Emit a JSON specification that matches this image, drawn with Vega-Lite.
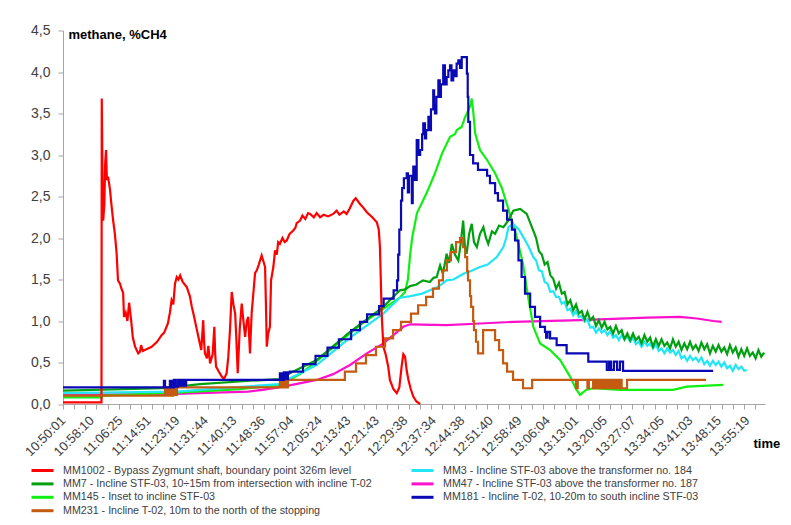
{
"$schema": "https://vega.github.io/schema/vega-lite/v6.json",
"width": 702, "height": 373.5,
"autosize": {"type": "none"},
"padding": {"left": 63, "top": 30.5, "right": 26, "bottom": 121},
"background": "white",
"config": {"view": {"stroke": null}, "font": "Liberation Sans"},
"data": {"values": [
{"k":"MM47","t":0,"v":0.11},{"k":"MM47","t":3.6,"v":0.12},{"k":"MM47","t":6.5,"v":0.15},{"k":"MM47","t":7.0,"v":0.17},{"k":"MM47","t":7.73,"v":0.21},{"k":"MM47","t":8.9,"v":0.29},{"k":"MM47","t":9.48,"v":0.36},{"k":"MM47","t":10.07,"v":0.47},{"k":"MM47","t":10.66,"v":0.61},{"k":"MM47","t":11.24,"v":0.73},{"k":"MM47","t":11.59,"v":0.83},{"k":"MM47","t":11.94,"v":0.93},{"k":"MM47","t":12.18,"v":0.96},{"k":"MM47","t":13.46,"v":0.95},{"k":"MM47","t":14.63,"v":0.97},{"k":"MM47","t":15.8,"v":0.99},{"k":"MM47","t":18.14,"v":1.01},{"k":"MM47","t":20.48,"v":1.04},{"k":"MM47","t":21.65,"v":1.05},{"k":"MM47","t":22.24,"v":1.03},{"k":"MM47","t":22.82,"v":1.0},{"k":"MM47","t":23.11,"v":0.99},
{"k":"MM145","t":0,"v":0.08},{"k":"MM145","t":1.36,"v":0.08},{"k":"MM145","t":1.4,"v":0.1},{"k":"MM145","t":4.16,"v":0.14},{"k":"MM145","t":6.21,"v":0.18},{"k":"MM145","t":7.61,"v":0.23},{"k":"MM145","t":8.32,"v":0.36},{"k":"MM145","t":9.02,"v":0.55},{"k":"MM145","t":9.72,"v":0.75},{"k":"MM145","t":10.42,"v":0.95},{"k":"MM145","t":11.12,"v":1.12},{"k":"MM145","t":11.82,"v":1.28},{"k":"MM145","t":12.0,"v":1.35},{"k":"MM145","t":12.1,"v":1.5},{"k":"MM145","t":12.18,"v":1.8},{"k":"MM145","t":12.25,"v":2.0},{"k":"MM145","t":12.42,"v":2.3},{"k":"MM145","t":12.77,"v":2.55},{"k":"MM145","t":13.05,"v":2.78},{"k":"MM145","t":13.3,"v":3.02},{"k":"MM145","t":13.58,"v":3.22},{"k":"MM145","t":13.75,"v":3.25},{"k":"MM145","t":13.82,"v":3.3},{"k":"MM145","t":13.99,"v":3.34},{"k":"MM145","t":14.1,"v":3.45},{"k":"MM145","t":14.17,"v":3.5},{"k":"MM145","t":14.3,"v":3.6},{"k":"MM145","t":14.34,"v":3.68},{"k":"MM145","t":14.4,"v":3.5},{"k":"MM145","t":14.46,"v":3.26},{"k":"MM145","t":14.63,"v":3.06},{"k":"MM145","t":14.88,"v":2.94},{"k":"MM145","t":15.16,"v":2.78},{"k":"MM145","t":15.4,"v":2.6},{"k":"MM145","t":15.58,"v":2.4},{"k":"MM145","t":15.89,"v":2.05},{"k":"MM145","t":16.14,"v":1.69},{"k":"MM145","t":16.3,"v":1.33},{"k":"MM145","t":16.5,"v":0.93},{"k":"MM145","t":16.74,"v":0.73},{"k":"MM145","t":17.09,"v":0.65},{"k":"MM145","t":17.44,"v":0.53},{"k":"MM145","t":17.79,"v":0.33},{"k":"MM145","t":18.0,"v":0.18},{"k":"MM145","t":18.14,"v":0.11},{"k":"MM145","t":18.35,"v":0.17},{"k":"MM145","t":18.6,"v":0.19},{"k":"MM145","t":19.54,"v":0.17},{"k":"MM145","t":21.4,"v":0.17},{"k":"MM145","t":21.89,"v":0.21},{"k":"MM145","t":23.16,"v":0.23},
{"k":"MM3","t":0,"v":0.13},{"k":"MM3","t":4.0,"v":0.15},{"k":"MM3","t":4.81,"v":0.17},{"k":"MM3","t":7.61,"v":0.24},{"k":"MM3","t":7.73,"v":0.27},{"k":"MM3","t":8.9,"v":0.47},{"k":"MM3","t":10.07,"v":0.8},{"k":"MM3","t":11.24,"v":1.09},{"k":"MM3","t":11.82,"v":1.28},{"k":"MM3","t":12.2,"v":1.3},{"k":"MM3","t":12.6,"v":1.33},{"k":"MM3","t":12.88,"v":1.37},{"k":"MM3","t":13.2,"v":1.42},{"k":"MM3","t":13.46,"v":1.49},{"k":"MM3","t":13.7,"v":1.5},{"k":"MM3","t":14.05,"v":1.57},{"k":"MM3","t":14.3,"v":1.6},{"k":"MM3","t":14.63,"v":1.65},{"k":"MM3","t":14.9,"v":1.68},{"k":"MM3","t":15.22,"v":1.77},{"k":"MM3","t":15.45,"v":1.89},{"k":"MM3","t":15.55,"v":2.0},{"k":"MM3","t":15.63,"v":2.13},{"k":"MM3","t":15.8,"v":2.17},{"k":"MM3","t":16.0,"v":2.1},{"k":"MM3","t":16.15,"v":2.01},{"k":"MM3","t":16.33,"v":1.9},{"k":"MM3","t":16.5,"v":1.77},
{"k":"MM3","t":16.6,"v":1.73},{"k":"MM3","t":16.7,"v":1.61},{"k":"MM3","t":16.8,"v":1.6},{"k":"MM3","t":16.9,"v":1.47},{"k":"MM3","t":17.0,"v":1.45},{"k":"MM3","t":17.1,"v":1.35},{"k":"MM3","t":17.2,"v":1.36},{"k":"MM3","t":17.3,"v":1.29},{"k":"MM3","t":17.4,"v":1.29},{"k":"MM3","t":17.5,"v":1.21},{"k":"MM3","t":17.6,"v":1.23},{"k":"MM3","t":17.7,"v":1.13},{"k":"MM3","t":17.8,"v":1.15},{"k":"MM3","t":17.9,"v":1.07},{"k":"MM3","t":18.0,"v":1.12},{"k":"MM3","t":18.1,"v":1.05},{"k":"MM3","t":18.2,"v":1.06},{"k":"MM3","t":18.3,"v":0.99},{"k":"MM3","t":18.4,"v":1.02},{"k":"MM3","t":18.5,"v":0.92},{"k":"MM3","t":18.6,"v":0.93},{"k":"MM3","t":18.7,"v":0.86},{"k":"MM3","t":18.8,"v":0.91},{"k":"MM3","t":18.9,"v":0.86},{"k":"MM3","t":19.0,"v":0.89},{"k":"MM3","t":19.1,"v":0.83},{"k":"MM3","t":19.2,"v":0.88},{"k":"MM3","t":19.3,"v":0.8},{"k":"MM3","t":19.4,"v":0.83},{"k":"MM3","t":19.5,"v":0.77},{"k":"MM3","t":19.6,"v":0.83},{"k":"MM3","t":19.7,"v":0.78},{"k":"MM3","t":19.8,"v":0.81},{"k":"MM3","t":19.9,"v":0.75},{"k":"MM3","t":20.0,"v":0.8},{"k":"MM3","t":20.1,"v":0.72},{"k":"MM3","t":20.2,"v":0.75},{"k":"MM3","t":20.3,"v":0.69},{"k":"MM3","t":20.4,"v":0.75},{"k":"MM3","t":20.5,"v":0.7},{"k":"MM3","t":20.6,"v":0.73},{"k":"MM3","t":20.7,"v":0.67},{"k":"MM3","t":20.8,"v":0.72},{"k":"MM3","t":20.9,"v":0.64},{"k":"MM3","t":21.0,"v":0.67},{"k":"MM3","t":21.1,"v":0.61},{"k":"MM3","t":21.2,"v":0.67},{"k":"MM3","t":21.3,"v":0.62},{"k":"MM3","t":21.4,"v":0.65},{"k":"MM3","t":21.5,"v":0.59},{"k":"MM3","t":21.6,"v":0.64},{"k":"MM3","t":21.7,"v":0.55},{"k":"MM3","t":21.8,"v":0.58},{"k":"MM3","t":21.9,"v":0.52},{"k":"MM3","t":22.0,"v":0.58},{"k":"MM3","t":22.1,"v":0.53},{"k":"MM3","t":22.2,"v":0.56},{"k":"MM3","t":22.3,"v":0.51},{"k":"MM3","t":22.4,"v":0.56},{"k":"MM3","t":22.5,"v":0.48},{"k":"MM3","t":22.6,"v":0.52},{"k":"MM3","t":22.7,"v":0.46},{"k":"MM3","t":22.8,"v":0.52},{"k":"MM3","t":22.9,"v":0.47},{"k":"MM3","t":23.0,"v":0.51},{"k":"MM3","t":23.1,"v":0.45},{"k":"MM3","t":23.2,"v":0.5},{"k":"MM3","t":23.3,"v":0.43},{"k":"MM3","t":23.4,"v":0.46},{"k":"MM3","t":23.5,"v":0.4},{"k":"MM3","t":23.6,"v":0.47},{"k":"MM3","t":23.7,"v":0.42},{"k":"MM3","t":23.8,"v":0.45},{"k":"MM3","t":23.9,"v":0.4},{"k":"MM3","t":23.99,"v":0.41},
{"k":"MM7","t":0,"v":0.16},{"k":"MM7","t":3.5,"v":0.19},{"k":"MM7","t":4.81,"v":0.24},{"k":"MM7","t":6.56,"v":0.28},{"k":"MM7","t":7.61,"v":0.3},{"k":"MM7","t":7.96,"v":0.37},{"k":"MM7","t":8.9,"v":0.53},{"k":"MM7","t":10.07,"v":0.87},{"k":"MM7","t":11.24,"v":1.17},{"k":"MM7","t":11.82,"v":1.37},{"k":"MM7","t":12.0,"v":1.38},{"k":"MM7","t":12.18,"v":1.42},{"k":"MM7","t":12.4,"v":1.44},{"k":"MM7","t":12.63,"v":1.49},{"k":"MM7","t":12.87,"v":1.47},{"k":"MM7","t":13.0,"v":1.52},{"k":"MM7","t":13.11,"v":1.53},{"k":"MM7","t":13.23,"v":1.67},{"k":"MM7","t":13.33,"v":1.57},{"k":"MM7","t":13.46,"v":1.81},{"k":"MM7","t":13.55,"v":1.7},{"k":"MM7","t":13.64,"v":1.93},{"k":"MM7","t":13.75,"v":1.8},{"k":"MM7","t":13.87,"v":1.73},{"k":"MM7","t":13.96,"v":1.95},{"k":"MM7","t":14.04,"v":2.21},{"k":"MM7","t":14.1,"v":1.9},{"k":"MM7","t":14.16,"v":1.81},{"k":"MM7","t":14.25,"v":2.05},{"k":"MM7","t":14.34,"v":2.17},{"k":"MM7","t":14.42,"v":1.95},{"k":"MM7","t":14.52,"v":1.89},{"k":"MM7","t":14.63,"v":2.05},{"k":"MM7","t":14.75,"v":2.13},{"k":"MM7","t":14.84,"v":2.0},{"k":"MM7","t":14.92,"v":1.93},{"k":"MM7","t":15.05,"v":2.08},{"k":"MM7","t":15.16,"v":2.05},{"k":"MM7","t":15.3,"v":2.15},{"k":"MM7","t":15.45,"v":2.13},{"k":"MM7","t":15.62,"v":2.21},{"k":"MM7","t":15.8,"v":2.33},{"k":"MM7","t":16.04,"v":2.35},{"k":"MM7","t":16.27,"v":2.29},{"k":"MM7","t":16.5,"v":2.09},{"k":"MM7","t":16.6,"v":2.0},{"k":"MM7","t":16.7,"v":1.84},{"k":"MM7","t":16.8,"v":1.8},{"k":"MM7","t":16.9,"v":1.68},
{"k":"MM7","t":17.0,"v":1.71},{"k":"MM7","t":17.1,"v":1.55},{"k":"MM7","t":17.2,"v":1.51},{"k":"MM7","t":17.3,"v":1.39},{"k":"MM7","t":17.4,"v":1.46},{"k":"MM7","t":17.5,"v":1.33},{"k":"MM7","t":17.6,"v":1.35},{"k":"MM7","t":17.7,"v":1.2},{"k":"MM7","t":17.8,"v":1.25},{"k":"MM7","t":17.9,"v":1.13},{"k":"MM7","t":18.0,"v":1.2},{"k":"MM7","t":18.1,"v":1.09},{"k":"MM7","t":18.2,"v":1.12},{"k":"MM7","t":18.3,"v":1.02},{"k":"MM7","t":18.4,"v":1.11},{"k":"MM7","t":18.5,"v":1.01},{"k":"MM7","t":18.6,"v":1.05},{"k":"MM7","t":18.7,"v":0.94},{"k":"MM7","t":18.8,"v":1.01},{"k":"MM7","t":18.9,"v":0.92},{"k":"MM7","t":19.0,"v":0.99},{"k":"MM7","t":19.1,"v":0.9},{"k":"MM7","t":19.2,"v":0.93},{"k":"MM7","t":19.3,"v":0.85},{"k":"MM7","t":19.4,"v":0.94},{"k":"MM7","t":19.5,"v":0.85},{"k":"MM7","t":19.6,"v":0.89},{"k":"MM7","t":19.7,"v":0.78},{"k":"MM7","t":19.8,"v":0.85},{"k":"MM7","t":19.9,"v":0.77},{"k":"MM7","t":20.0,"v":0.85},{"k":"MM7","t":20.1,"v":0.77},{"k":"MM7","t":20.2,"v":0.81},{"k":"MM7","t":20.3,"v":0.73},{"k":"MM7","t":20.4,"v":0.83},{"k":"MM7","t":20.5,"v":0.75},{"k":"MM7","t":20.6,"v":0.8},{"k":"MM7","t":20.7,"v":0.69},{"k":"MM7","t":20.8,"v":0.78},{"k":"MM7","t":20.9,"v":0.7},{"k":"MM7","t":21.0,"v":0.78},{"k":"MM7","t":21.1,"v":0.7},{"k":"MM7","t":21.2,"v":0.74},{"k":"MM7","t":21.3,"v":0.67},{"k":"MM7","t":21.4,"v":0.78},{"k":"MM7","t":21.5,"v":0.69},{"k":"MM7","t":21.6,"v":0.75},{"k":"MM7","t":21.7,"v":0.65},{"k":"MM7","t":21.8,"v":0.73},{"k":"MM7","t":21.9,"v":0.66},{"k":"MM7","t":22.0,"v":0.75},{"k":"MM7","t":22.1,"v":0.66},{"k":"MM7","t":22.2,"v":0.71},{"k":"MM7","t":22.3,"v":0.64},{"k":"MM7","t":22.4,"v":0.74},{"k":"MM7","t":22.5,"v":0.66},{"k":"MM7","t":22.6,"v":0.72},{"k":"MM7","t":22.7,"v":0.61},{"k":"MM7","t":22.8,"v":0.7},{"k":"MM7","t":22.9,"v":0.63},{"k":"MM7","t":23.0,"v":0.71},{"k":"MM7","t":23.1,"v":0.63},{"k":"MM7","t":23.2,"v":0.68},{"k":"MM7","t":23.3,"v":0.6},{"k":"MM7","t":23.4,"v":0.71},{"k":"MM7","t":23.5,"v":0.62},{"k":"MM7","t":23.6,"v":0.68},{"k":"MM7","t":23.7,"v":0.57},{"k":"MM7","t":23.8,"v":0.66},{"k":"MM7","t":23.9,"v":0.58},{"k":"MM7","t":24.0,"v":0.67},{"k":"MM7","t":24.1,"v":0.58},{"k":"MM7","t":24.2,"v":0.62},{"k":"MM7","t":24.3,"v":0.55},{"k":"MM7","t":24.4,"v":0.65},{"k":"MM7","t":24.5,"v":0.57},{"k":"MM7","t":24.6,"v":0.62},
{"k":"MM1002","t":0,"v":0.02},{"k":"MM1002","t":1.35,"v":0.02},{"k":"MM1002","t":1.36,"v":3.68},{"k":"MM1002","t":1.39,"v":2.6},{"k":"MM1002","t":1.41,"v":2.21},{"k":"MM1002","t":1.45,"v":2.4},{"k":"MM1002","t":1.48,"v":2.9},{"k":"MM1002","t":1.51,"v":3.06},{"k":"MM1002","t":1.54,"v":2.7},{"k":"MM1002","t":1.58,"v":2.74},{"k":"MM1002","t":1.62,"v":2.65},{"k":"MM1002","t":1.65,"v":2.58},{"k":"MM1002","t":1.7,"v":2.4},{"k":"MM1002","t":1.76,"v":2.21},{"k":"MM1002","t":1.82,"v":2.05},{"k":"MM1002","t":1.88,"v":1.82},{"k":"MM1002","t":1.93,"v":1.49},{"k":"MM1002","t":2.0,"v":1.45},{"k":"MM1002","t":2.06,"v":1.38},{"k":"MM1002","t":2.11,"v":1.34},{"k":"MM1002","t":2.14,"v":1.05},{"k":"MM1002","t":2.2,"v":1.1},{"k":"MM1002","t":2.26,"v":1.0},{"k":"MM1002","t":2.32,"v":1.22},{"k":"MM1002","t":2.39,"v":1.01},{"k":"MM1002","t":2.45,"v":0.8},{"k":"MM1002","t":2.53,"v":0.69},{"k":"MM1002","t":2.64,"v":0.61},{"k":"MM1002","t":2.7,"v":0.63},{"k":"MM1002","t":2.74,"v":0.71},{"k":"MM1002","t":2.8,"v":0.64},{"k":"MM1002","t":3.11,"v":0.69},{"k":"MM1002","t":3.3,"v":0.75},{"k":"MM1002","t":3.46,"v":0.83},{"k":"MM1002","t":3.55,"v":0.86},{"k":"MM1002","t":3.68,"v":0.97},{"k":"MM1002","t":3.75,"v":1.1},{"k":"MM1002","t":3.81,"v":1.25},{"k":"MM1002","t":3.87,"v":1.2},{"k":"MM1002","t":3.93,"v":1.45},{"k":"MM1002","t":3.99,"v":1.53},{"k":"MM1002","t":4.05,"v":1.5},{"k":"MM1002","t":4.11,"v":1.55},{"k":"MM1002","t":4.2,"v":1.47},{"k":"MM1002","t":4.34,"v":1.41},{"k":"MM1002","t":4.45,"v":1.3},{"k":"MM1002","t":4.52,"v":1.17},{"k":"MM1002","t":4.6,"v":1.05},{"k":"MM1002","t":4.68,"v":0.92},{"k":"MM1002","t":4.75,"v":0.81},{"k":"MM1002","t":4.85,"v":0.65},{"k":"MM1002","t":4.92,"v":1.01},{"k":"MM1002","t":4.95,"v":0.75},{"k":"MM1002","t":4.98,"v":0.61},{"k":"MM1002","t":5.05,"v":0.55},{"k":"MM1002","t":5.1,"v":0.7},{"k":"MM1002","t":5.16,"v":0.49},{"k":"MM1002","t":5.25,"v":0.6},{"k":"MM1002","t":5.31,"v":0.93},{"k":"MM1002","t":5.34,"v":0.6},{"k":"MM1002","t":5.37,"v":0.45},{"k":"MM1002","t":5.45,"v":0.4},{"k":"MM1002","t":5.57,"v":0.33},{"k":"MM1002","t":5.65,"v":0.3},{"k":"MM1002","t":5.74,"v":0.37},{"k":"MM1002","t":5.8,"v":0.57},{"k":"MM1002","t":5.86,"v":0.9},{"k":"MM1002","t":5.92,"v":1.35},{"k":"MM1002","t":5.98,"v":1.2},{"k":"MM1002","t":6.04,"v":1.09},{"k":"MM1002","t":6.08,"v":0.8},{"k":"MM1002","t":6.13,"v":0.37},{"k":"MM1002","t":6.2,"v":0.9},{"k":"MM1002","t":6.27,"v":1.21},{"k":"MM1002","t":6.33,"v":1.0},{"k":"MM1002","t":6.39,"v":0.81},{"k":"MM1002","t":6.45,"v":1.0},{"k":"MM1002","t":6.5,"v":1.05},{"k":"MM1002","t":6.56,"v":0.61},{"k":"MM1002","t":6.62,"v":1.1},{"k":"MM1002","t":6.68,"v":1.34},{"k":"MM1002","t":6.74,"v":1.58},{"k":"MM1002","t":6.8,"v":1.61},{"k":"MM1002","t":6.87,"v":1.68},{"k":"MM1002","t":6.97,"v":1.79},{"k":"MM1002","t":7.03,"v":1.72},{"k":"MM1002","t":7.09,"v":1.65},{"k":"MM1002","t":7.12,"v":1.2},{"k":"MM1002","t":7.15,"v":0.69},{"k":"MM1002","t":7.2,"v":0.85},{"k":"MM1002","t":7.26,"v":0.93},{"k":"MM1002","t":7.3,"v":1.49},{"k":"MM1002","t":7.38,"v":1.65},{"k":"MM1002","t":7.44,"v":1.85},{"k":"MM1002","t":7.5,"v":1.8},{"k":"MM1002","t":7.55,"v":1.95},{"k":"MM1002","t":7.61,"v":1.93},{"k":"MM1002","t":7.7,"v":2.0},{"k":"MM1002","t":7.78,"v":1.95},{"k":"MM1002","t":7.85,"v":1.97},{"k":"MM1002","t":7.95,"v":2.05},{"k":"MM1002","t":8.08,"v":2.09},{"k":"MM1002","t":8.15,"v":2.12},{"k":"MM1002","t":8.2,"v":2.18},{"k":"MM1002","t":8.32,"v":2.21},{"k":"MM1002","t":8.4,"v":2.27},{"k":"MM1002","t":8.5,"v":2.23},{"k":"MM1002","t":8.6,"v":2.3},{"k":"MM1002","t":8.67,"v":2.29},{"k":"MM1002","t":8.8,"v":2.25},{"k":"MM1002","t":8.9,"v":2.3},{"k":"MM1002","t":9.02,"v":2.25},{"k":"MM1002","t":9.15,"v":2.28},{"k":"MM1002","t":9.3,"v":2.26},{"k":"MM1002","t":9.48,"v":2.29},{"k":"MM1002","t":9.6,"v":2.33},{"k":"MM1002","t":9.7,"v":2.28},{"k":"MM1002","t":9.85,"v":2.32},{"k":"MM1002","t":9.95,"v":2.29},{"k":"MM1002","t":10.05,"v":2.35},{"k":"MM1002","t":10.19,"v":2.45},{"k":"MM1002","t":10.27,"v":2.48},{"k":"MM1002","t":10.42,"v":2.41},{"k":"MM1002","t":10.55,"v":2.36},{"k":"MM1002","t":10.66,"v":2.31},{"k":"MM1002","t":10.85,"v":2.25},{"k":"MM1002","t":11.01,"v":2.19},{"k":"MM1002","t":11.08,"v":2.1},{"k":"MM1002","t":11.12,"v":1.89},{"k":"MM1002","t":11.15,"v":1.5},{"k":"MM1002","t":11.18,"v":1.09},{"k":"MM1002","t":11.24,"v":0.69},{"k":"MM1002","t":11.32,"v":0.6},{"k":"MM1002","t":11.41,"v":0.45},{"k":"MM1002","t":11.47,"v":0.29},{"k":"MM1002","t":11.59,"v":0.18},{"k":"MM1002","t":11.71,"v":0.13},{"k":"MM1002","t":11.8,"v":0.2},{"k":"MM1002","t":11.88,"v":0.45},{"k":"MM1002","t":11.94,"v":0.6},{"k":"MM1002","t":12.0,"v":0.57},{"k":"MM1002","t":12.06,"v":0.4},{"k":"MM1002","t":12.12,"v":0.29},{"k":"MM1002","t":12.2,"v":0.18},{"k":"MM1002","t":12.29,"v":0.09},{"k":"MM1002","t":12.4,"v":0.03},{"k":"MM1002","t":12.53,"v":0.0},
{"k":"MM231","t":0,"v":0.1},{"k":"MM231","t":3.58,"v":0.2},{"k":"MM231","t":3.65,"v":0.1},{"k":"MM231","t":3.72,"v":0.2},{"k":"MM231","t":3.79,"v":0.1},{"k":"MM231","t":3.86,"v":0.2},{"k":"MM231","t":3.93,"v":0.11},{"k":"MM231","t":4.0,"v":0.2},{"k":"MM231","t":7.61,"v":0.29},{"k":"MM231","t":7.68,"v":0.2},{"k":"MM231","t":7.75,"v":0.29},{"k":"MM231","t":7.82,"v":0.2},{"k":"MM231","t":7.89,"v":0.29},{"k":"MM231","t":9.89,"v":0.39},{"k":"MM231","t":10.28,"v":0.49},{"k":"MM231","t":10.63,"v":0.59},{"k":"MM231","t":10.98,"v":0.69},{"k":"MM231","t":11.3,"v":0.79},{"k":"MM231","t":11.58,"v":0.89},{"k":"MM231","t":11.86,"v":0.99},{"k":"MM231","t":12.21,"v":1.09},{"k":"MM231","t":12.46,"v":1.19},{"k":"MM231","t":12.74,"v":1.29},{"k":"MM231","t":12.98,"v":1.39},{"k":"MM231","t":13.19,"v":1.49},{"k":"MM231","t":13.33,"v":1.61},{"k":"MM231","t":13.47,"v":1.73},{"k":"MM231","t":13.61,"v":1.83},{"k":"MM231","t":13.79,"v":1.95},{"k":"MM231","t":13.93,"v":2.0},{"k":"MM231","t":14.04,"v":1.89},{"k":"MM231","t":14.11,"v":1.77},{"k":"MM231","t":14.18,"v":1.6},{"k":"MM231","t":14.21,"v":1.49},{"k":"MM231","t":14.28,"v":1.3},{"k":"MM231","t":14.32,"v":1.17},{"k":"MM231","t":14.39,"v":1.0},{"k":"MM231","t":14.42,"v":0.89},{"k":"MM231","t":14.49,"v":0.75},{"k":"MM231","t":14.56,"v":0.61},{"k":"MM231","t":14.74,"v":0.89},{"k":"MM231","t":15.16,"v":0.77},{"k":"MM231","t":15.3,"v":0.65},{"k":"MM231","t":15.44,"v":0.49},{"k":"MM231","t":15.58,"v":0.39},{"k":"MM231","t":15.79,"v":0.29},{"k":"MM231","t":16.14,"v":0.19},{"k":"MM231","t":16.46,"v":0.29},{"k":"MM231","t":18.0,"v":0.19},{"k":"MM231","t":18.06,"v":0.29},{"k":"MM231","t":18.4,"v":0.19},{"k":"MM231","t":18.45,"v":0.29},{"k":"MM231","t":18.6,"v":0.19},{"k":"MM231","t":18.65,"v":0.29},{"k":"MM231","t":18.7,"v":0.19},{"k":"MM231","t":18.75,"v":0.29},{"k":"MM231","t":18.8,"v":0.19},{"k":"MM231","t":18.85,"v":0.29},{"k":"MM231","t":18.9,"v":0.19},{"k":"MM231","t":18.95,"v":0.29},{"k":"MM231","t":19.0,"v":0.19},{"k":"MM231","t":19.05,"v":0.29},{"k":"MM231","t":19.1,"v":0.19},{"k":"MM231","t":19.15,"v":0.29},{"k":"MM231","t":19.2,"v":0.19},{"k":"MM231","t":19.25,"v":0.29},{"k":"MM231","t":19.3,"v":0.19},{"k":"MM231","t":19.35,"v":0.29},{"k":"MM231","t":19.4,"v":0.19},{"k":"MM231","t":19.45,"v":0.29},{"k":"MM231","t":19.5,"v":0.19},{"k":"MM231","t":19.55,"v":0.29},{"k":"MM231","t":19.6,"v":0.19},{"k":"MM231","t":19.79,"v":0.29},{"k":"MM231","t":22.56,"v":0.29},
{"k":"MM181","t":0,"v":0.2},{"k":"MM181","t":3.54,"v":0.28},{"k":"MM181","t":3.58,"v":0.2},{"k":"MM181","t":3.75,"v":0.28},{"k":"MM181","t":3.82,"v":0.2},{"k":"MM181","t":3.89,"v":0.29},{"k":"MM181","t":3.96,"v":0.21},{"k":"MM181","t":4.04,"v":0.29},{"k":"MM181","t":4.11,"v":0.22},{"k":"MM181","t":4.18,"v":0.29},{"k":"MM181","t":4.25,"v":0.22},{"k":"MM181","t":4.32,"v":0.29},{"k":"MM181","t":7.61,"v":0.37},{"k":"MM181","t":7.68,"v":0.29},{"k":"MM181","t":7.75,"v":0.38},{"k":"MM181","t":7.82,"v":0.3},{"k":"MM181","t":7.89,"v":0.38},{"k":"MM181","t":7.96,"v":0.39},{"k":"MM181","t":8.42,"v":0.48},{"k":"MM181","t":8.86,"v":0.58},{"k":"MM181","t":9.28,"v":0.68},{"k":"MM181","t":9.68,"v":0.78},{"k":"MM181","t":10.11,"v":0.89},{"k":"MM181","t":10.42,"v":0.99},{"k":"MM181","t":10.67,"v":1.08},{"k":"MM181","t":11.09,"v":1.18},{"k":"MM181","t":11.25,"v":1.27},{"k":"MM181","t":11.6,"v":1.37},{"k":"MM181","t":11.72,"v":1.49},{"k":"MM181","t":11.76,"v":1.8},{"k":"MM181","t":11.8,"v":2.1},{"k":"MM181","t":11.86,"v":2.45},{"k":"MM181","t":11.9,"v":2.6},{"k":"MM181","t":11.96,"v":2.72},{"k":"MM181","t":12.06,"v":2.78},{"k":"MM181","t":12.1,"v":2.55},{"k":"MM181","t":12.14,"v":2.75},{"k":"MM181","t":12.24,"v":2.42},{"k":"MM181","t":12.27,"v":2.7},{"k":"MM181","t":12.29,"v":2.86},{"k":"MM181","t":12.36,"v":2.7},{"k":"MM181","t":12.41,"v":3.18},{"k":"MM181","t":12.47,"v":3.0},{"k":"MM181","t":12.53,"v":3.06},{"k":"MM181","t":12.6,"v":3.25},{"k":"MM181","t":12.64,"v":3.38},{"k":"MM181","t":12.7,"v":3.2},{"k":"MM181","t":12.74,"v":3.3},{"k":"MM181","t":12.82,"v":3.46},{"k":"MM181","t":12.88,"v":3.3},{"k":"MM181","t":12.91,"v":3.55},{"k":"MM181","t":12.99,"v":3.78},{"k":"MM181","t":13.02,"v":3.6},{"k":"MM181","t":13.05,"v":3.5},{"k":"MM181","t":13.1,"v":3.7},{"k":"MM181","t":13.17,"v":3.9},{"k":"MM181","t":13.22,"v":3.7},{"k":"MM181","t":13.26,"v":3.85},{"k":"MM181","t":13.34,"v":4.08},{"k":"MM181","t":13.4,"v":3.85},{"k":"MM181","t":13.46,"v":3.94},{"k":"MM181","t":13.52,"v":4.02},{"k":"MM181","t":13.58,"v":4.08},{"k":"MM181","t":13.63,"v":3.9},{"k":"MM181","t":13.69,"v":4.02},{"k":"MM181","t":13.75,"v":3.95},{"k":"MM181","t":13.81,"v":4.1},{"k":"MM181","t":13.87,"v":4.14},{"k":"MM181","t":13.93,"v":4.05},{"k":"MM181","t":13.99,"v":4.18},{"k":"MM181","t":14.11,"v":4.18},{"k":"MM181","t":14.17,"v":3.98},{"k":"MM181","t":14.2,"v":3.7},{"k":"MM181","t":14.22,"v":3.4},{"k":"MM181","t":14.28,"v":3.0},{"k":"MM181","t":14.39,"v":2.9},{"k":"MM181","t":14.56,"v":2.82},{"k":"MM181","t":14.88,"v":2.75},{"k":"MM181","t":14.98,"v":2.66},{"k":"MM181","t":15.16,"v":2.54},{"k":"MM181","t":15.26,"v":2.45},{"k":"MM181","t":15.44,"v":2.33},{"k":"MM181","t":15.58,"v":2.22},{"k":"MM181","t":15.75,"v":2.1},{"k":"MM181","t":15.86,"v":1.97},{"k":"MM181","t":15.98,"v":1.73},{"k":"MM181","t":16.09,"v":1.53},{"k":"MM181","t":16.21,"v":1.33},{"k":"MM181","t":16.39,"v":1.17},{"k":"MM181","t":16.56,"v":1.05},{"k":"MM181","t":16.74,"v":0.93},{"k":"MM181","t":16.91,"v":0.87},{"k":"MM181","t":16.95,"v":0.8},{"k":"MM181","t":17.0,"v":0.87},{"k":"MM181","t":17.09,"v":0.79},{"k":"MM181","t":17.32,"v":0.71},{"k":"MM181","t":17.67,"v":0.61},{"k":"MM181","t":18.43,"v":0.51},{"k":"MM181","t":19.08,"v":0.41},{"k":"MM181","t":19.16,"v":0.51},{"k":"MM181","t":19.23,"v":0.41},{"k":"MM181","t":19.33,"v":0.51},{"k":"MM181","t":19.44,"v":0.41},{"k":"MM181","t":19.54,"v":0.51},{"k":"MM181","t":19.65,"v":0.4},{"k":"MM181","t":22.81,"v":0.4}
]},
"layer": [
{
"transform": [{"filter": "datum.k != 'MM181' && datum.k != 'MM231'"}],
"mark": {"type": "line", "strokeWidth": 2.2, "interpolate": "linear"},
"encoding": {
"x": {"field": "t", "type": "quantitative", "scale": {"domain": [0, 24.63], "nice": false, "zero": false},
 "axis": {"values": [0,1,2,3,4,5,6,7,8,9,10,11,12,13,14,15,16,17,18,19,20,21,22,23,24],
  "labelExpr": "['10:50:01','10:58:10','11:06:25','11:14:51','11:23:19','11:31:44','11:40:13','11:48:36','11:57:04','12:05:24','12:13:43','12:21:43','12:29:38','12:37:34','12:44:38','12:51:40','12:58:49','13:06:04','13:13:01','13:20:05','13:27:07','13:34:05','13:41:03','13:48:15','13:55:19'][datum.value]",
  "labelAngle": -45, "labelAlign": "right", "labelBaseline": "middle", "labelFontSize": 13, "labelColor": "#404040",
  "labelPadding": 14, "labelFlush": false, "labelOverlap": false, "labelBound": false, "ticks": false, "tickSize": 5,
  "domainColor": "#a6a6a6", "domainWidth": 1, "grid": false,
  "title": "time", "titleFontSize": 13, "titleFontWeight": "bold", "titleColor": "#000000",
  "titleX": 690, "titleY": 43, "titleAlign": "left", "titleBaseline": "alphabetic", "titleAnchor": null}},
"y": {"field": "v", "type": "quantitative", "scale": {"domain": [0, 4.5], "nice": false},
 "axis": {"values": [0,0.5,1,1.5,2,2.5,3,3.5,4,4.5], "labelExpr": "replace(format(datum.value,'.1f'),'.',',')",
  "labelFontSize": 14, "labelColor": "#404040", "tickSize": 5, "tickColor": "#a6a6a6", "domainColor": "#a6a6a6",
  "labelPadding": 8, "labelFlush": false, "grid": false,
  "title": "methane, %CH4", "titleAngle": 0, "titleAlign": "left", "titleBaseline": "alphabetic",
  "titleX": 5, "titleY": 8, "titleFontSize": 13, "titleFontWeight": "bold", "titleColor": "#000000"}},
"color": {"field": "k", "type": "nominal",
 "scale": {"domain": ["MM1002","MM7","MM145","MM231","MM3","MM47","MM181"],
   "range": ["#FF0000","#00A010","#10F010","#C55A11","#22E5F5","#FF10CC","#0A0AB4"]},
 "legend": {"orient": "none", "legendX": -27.5, "legendY": 433, "columns": 2, "title": null,
   "symbolType": "M-2,0H2", "symbolSize": 121, "symbolStrokeWidth": 3,
   "labelFontSize": 10.7, "labelColor": "#404040", "labelLimit": 600, "labelOffset": 13.5,
   "rowPadding": 0.4, "columnPadding": 30,
   "labelExpr": "datum.label == 'MM1002' ? 'MM1002 - Bypass Zygmunt shaft, boundary point 326m level' : datum.label == 'MM3' ? 'MM3 - Incline STF-03 above the transformer no. 184' : datum.label == 'MM7' ? 'MM7 -  Incline STF-03, 10÷15m from intersection with incline T-02' : datum.label == 'MM47' ? 'MM47 - Incline STF-03 above the transformer no. 187' : datum.label == 'MM145' ? 'MM145 - Inset to incline STF-03' : datum.label == 'MM181' ? 'MM181 - Incline T-02, 10-20m to south incline STF-03' : 'MM231 - Incline T-02, 10m to the north of the stopping'"}}
}
},
{
"transform": [{"filter": "datum.k == 'MM181' || datum.k == 'MM231'"}],
"mark": {"type": "line", "strokeWidth": 2.2, "interpolate": "step-after"},
"encoding": {
"x": {"field": "t", "type": "quantitative",
 "axis": {"orient": "bottom", "values": [0,0.392,0.783,1.175,1.566,1.958,2.35,2.741,3.133,3.524,3.916,4.308,4.699,5.091,5.482,5.874,6.266,6.657,7.049,7.44,7.832,8.224,8.615,9.007,9.398,9.79,10.182,10.573,10.965,11.356,11.748,12.14,12.531,12.923,13.314,13.706,14.098,14.489,14.881,15.272,15.664,16.056,16.447,16.839,17.23,17.622,18.014,18.405,18.797,19.188,19.58,19.972,20.363,20.755,21.146,21.538,21.93,22.321,22.713,23.104,23.496,23.888,24.279],
  "labels": false, "ticks": true, "tickSize": 5, "tickColor": "#a6a6a6", "domain": false, "grid": false, "title": null}},
"y": {"field": "v", "type": "quantitative"},
"color": {"field": "k", "type": "nominal"}
}
}
],
"resolve": {"axis": {"x": "independent"}}
}
